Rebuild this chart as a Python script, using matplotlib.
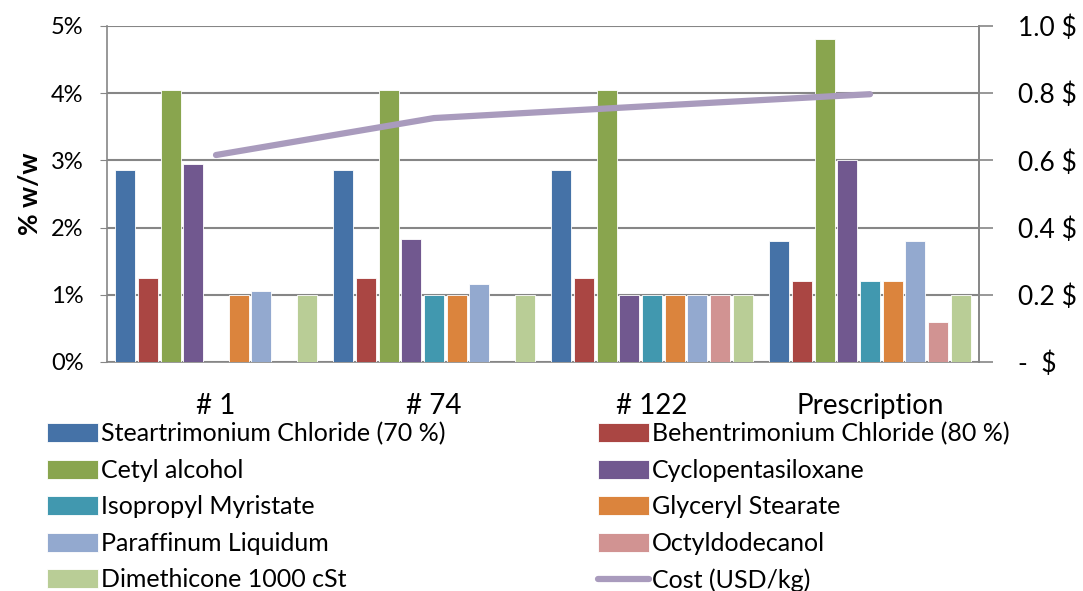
import numpy as np
import matplotlib.pyplot as plt

plt.rcParams['font.family'] = ['Lato', 'DejaVu Sans']

# data
categories = ['# 1', '# 74', '# 122', 'Prescription']
ingredients = ['Steartrimonium Chloride (70 %)', 'Behentrimonium Chloride (80 %)',
               'Cetyl alcohol', 'Cyclopentasiloxane', 'Isopropyl Myristate',
               'Glyceryl Stearate', 'Paraffinum Liquidum', 'Octyldodecanol',
               'Dimethicone 1000 cSt']
steartrimonium = [2.85, 2.85, 2.85, 1.80]
behentrimonium = [1.25, 1.25, 1.25, 1.20]
cetyl = [4.05, 4.05, 4.05, 4.80]
cyclopenta = [2.94, 1.83, 1.00, 3.00]
isopropyl = [0.00, 1.00, 1.00, 1.20]
glyceryl = [1.00, 1.00, 1.00, 1.20]
paraffinum = [1.05, 1.16, 1.00, 1.80]
octyldodecanol = [0.00, 0.00, 1.00, 0.60]
dimethicone = [1.00, 1.00, 1.00, 1.00]
cost = [0.616, 0.726, 0.762, 0.797]
cost_label = 'Cost (USD/kg)'
left_ticks = [0, 1, 2, 3, 4, 5]
left_labels = ['0%', '1%', '2%', '3%', '4%', '5%']
right_ticks = [0, 0.2, 0.4, 0.6, 0.8, 1.0]
right_labels = ['-  $', '0.2 $', '0.4 $', '0.6 $', '0.8 $', '1.0 $']

series = [steartrimonium, behentrimonium, cetyl, cyclopenta, isopropyl,
          glyceryl, paraffinum, octyldodecanol, dimethicone]
colors = ['#4572A7', '#AA4643', '#89A54E', '#71588F', '#4198AF',
          '#DB843D', '#93A9CF', '#D19392', '#B9CD96']
grid_c = '#868686'

fig = plt.figure(figsize=(10.83, 5.91), dpi=100)
ax = fig.add_axes([107/1083, 1-362/591, (979-107)/1083, (362-26)/591])

x = np.arange(len(categories))
slot = 0.104
bars = []
for i, (vals, c) in enumerate(zip(series, colors)):
    b = ax.bar(x + (i-4)*slot, vals, width=slot*0.88, color=c,
               edgecolor='white', linewidth=0.6, label=ingredients[i], zorder=3)
    bars.append(b)

ax.set_xlim(-0.5, 3.5)
ax.set_ylim(0, 5)
ax.set_yticks(left_ticks)
ax.set_yticklabels(left_labels, fontsize=17)
ax.set_xticks(x)
ax.set_xticklabels(categories, fontsize=20)
ax.tick_params(axis='x', length=0, pad=22)
ax.tick_params(axis='y', length=5, color=grid_c, pad=12)
ax.yaxis.grid(True, color=grid_c, linewidth=1.5, zorder=0)
ax.set_axisbelow(True)
ax.spines['top'].set_visible(False)
for s in ['left', 'bottom', 'right']:
    ax.spines[s].set_color(grid_c)
    ax.spines[s].set_linewidth(1.2)
ax.set_ylabel('% w/w', fontsize=19, fontweight='bold', labelpad=6)

ax2 = ax.twinx()
line, = ax2.plot(x, cost, color='#A99BBD', linewidth=4.5,
                 solid_capstyle='round', label=cost_label, zorder=4)
ax2.set_ylim(0, 1.0)
ax2.set_yticks(right_ticks)
ax2.set_yticklabels(right_labels, fontsize=19)
ax2.tick_params(axis='y', length=10, color=grid_c, width=1.2, pad=18)
for s in ['top', 'left', 'bottom']:
    ax2.spines[s].set_visible(False)
ax2.spines['right'].set_color(grid_c)
ax2.spines['right'].set_linewidth(1.2)

handles = [bars[0], bars[2], bars[4], bars[6], bars[8],
           bars[1], bars[3], bars[5], bars[7], line]
labels = [h.get_label() for h in handles]
fig.legend(handles, labels, ncol=2, loc='upper left',
           bbox_to_anchor=(47/1083, 1-422/591), frameon=False,
           fontsize=18, handlelength=2.05, handleheight=0.8,
           handletextpad=0.1, labelspacing=0.54, columnspacing=6.1,
           borderaxespad=0, borderpad=0)

fig.savefig('out.png', dpi=100)
